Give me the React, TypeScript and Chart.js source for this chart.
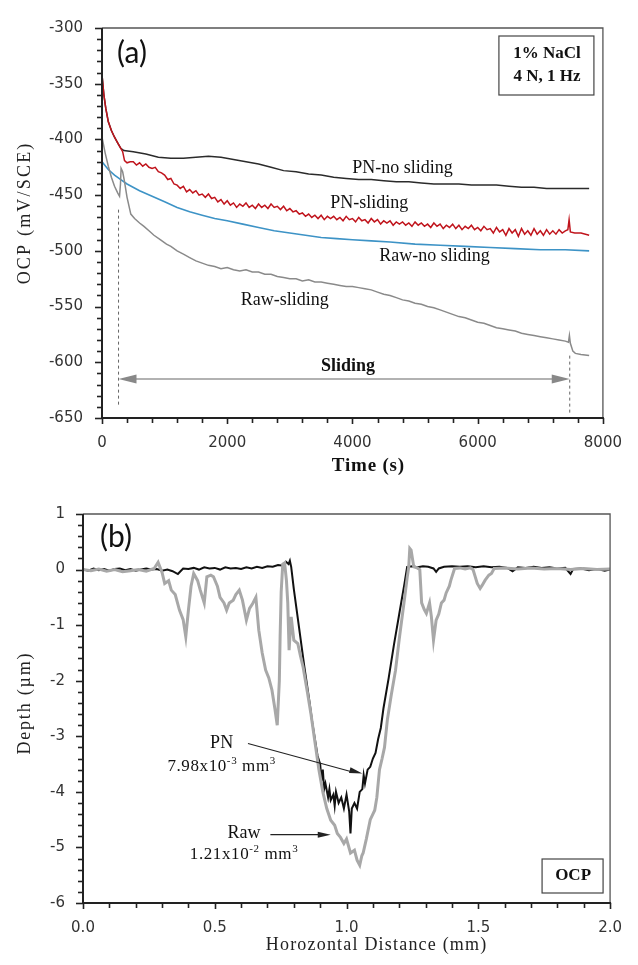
import React, { useEffect, useRef } from "react";
import { Chart, registerables } from "chart.js";

Chart.register(...registerables);

// ---------------- Panel (a): OCP vs time ----------------
const PN_NOSLIDE_T = [0, 30, 60, 100, 150, 200, 250, 300, 350, 500, 700, 900, 1100, 1300, 1500, 1700, 1900, 2100, 2300, 2500, 2700, 2900, 3100, 3300, 3500, 3700, 3900, 4100, 4300, 4500, 4700, 4900, 5100, 5300, 5500, 5700, 5900, 6100, 6300, 6500, 6700, 6900, 7100, 7300, 7500, 7780];
const PN_NOSLIDE_V = [-342, -360, -372, -384, -392, -398, -403, -408, -410, -411, -413, -416, -417, -417, -416, -415, -416, -418, -420, -422, -425, -428, -429, -431, -432, -434, -435, -436, -436, -437, -438, -438, -439, -440, -440, -440, -441, -441, -441, -442, -443, -443, -444, -444, -444, -444];

const PN_SLIDE_T = [0, 30, 60, 100, 150, 200, 250, 300, 330, 360, 400, 450,
  500, 550, 600, 650, 700, 750, 800, 850, 900, 950,
  1000, 1050, 1100, 1150, 1200, 1250, 1300, 1350, 1400, 1450,
  1500, 1550, 1600, 1650, 1700, 1750, 1800, 1850, 1900, 1950,
  2000, 2050, 2100, 2150, 2200, 2250, 2300, 2350, 2400, 2450,
  2500, 2550, 2600, 2650, 2700, 2750, 2800, 2850, 2900, 2950,
  3000, 3050, 3100, 3150, 3200, 3250, 3300, 3350, 3400, 3450,
  3500, 3550, 3600, 3650, 3700, 3750, 3800, 3850, 3900, 3950,
  4000, 4050, 4100, 4150, 4200, 4250, 4300, 4350, 4400, 4450,
  4500, 4550, 4600, 4650, 4700, 4750, 4800, 4850, 4900, 4950,
  5000, 5050, 5100, 5150, 5200, 5250, 5300, 5350, 5400, 5450,
  5500, 5550, 5600, 5650, 5700, 5750, 5800, 5850, 5900, 5950,
  6000, 6050, 6100, 6150, 6200, 6250, 6300, 6350, 6400, 6450,
  6500, 6550, 6600, 6650, 6700, 6750, 6800, 6850, 6900, 6950,
  7000, 7050, 7100, 7150, 7200, 7250, 7300, 7350, 7400,
  7440, 7460, 7480, 7550, 7650, 7780];
const PN_SLIDE_V = [-342, -360, -372, -384, -392, -398, -403, -408, -411, -419, -421, -420,
  -420, -423, -421, -424, -422, -425, -426, -425, -429, -430,
  -432, -436, -435, -440, -441, -444, -442, -447, -445, -448,
  -446, -450, -449, -452, -449, -453, -452, -456, -454, -458,
  -455, -459, -457, -461, -458, -460, -457, -461, -459, -462,
  -458, -461, -459, -462, -458, -461, -460, -463, -460, -464,
  -462, -465, -464, -467, -466, -469, -467, -470, -468, -471,
  -468, -472, -469, -471, -469, -472, -470, -473, -469, -472,
  -471, -474, -470, -473, -472, -475, -471, -474, -472, -476,
  -473, -475, -473, -477, -474, -476, -474, -477, -475, -478,
  -474, -477, -475, -478, -476, -479, -475, -478, -476, -480,
  -477, -479, -476, -480, -477, -481, -478, -480, -477, -481,
  -479, -482, -478, -481, -480, -484, -479, -483, -481, -486,
  -480, -484, -481, -487, -480, -485, -482, -486, -480, -485,
  -482, -486, -481, -485, -482, -485, -481, -484, -482,
  -481, -472, -483, -484, -484, -486];

const RAW_NOSLIDE_T = [0, 100, 200, 300, 400, 600, 800, 1000, 1200, 1400, 1600, 1800, 2000, 2250, 2500, 2750, 3000, 3250, 3500, 3750, 4000, 4300, 4600, 5000, 5400, 5800, 6200, 6600, 7000, 7400, 7780];
const RAW_NOSLIDE_V = [-420, -427, -432, -436, -440, -446, -451, -456, -461, -465, -468, -471, -473, -476, -479, -482, -484, -486, -488, -489, -490, -491, -492, -494, -495, -496, -497, -498, -499, -499, -500];

const RAW_SLIDE_T = [0, 50, 100, 150, 200, 250, 280, 295, 305, 330,
  357, 400, 460, 520, 600, 670, 750, 830, 930, 1030,
  1100, 1200, 1300, 1400, 1500, 1600, 1700, 1800, 1900, 2000,
  2100, 2200, 2300, 2400, 2500, 2600, 2700, 2800, 2900, 3000,
  3100, 3200, 3300, 3400, 3500, 3600, 3700, 3800, 3900, 4000,
  4100, 4200, 4300, 4400, 4500, 4600, 4700, 4800, 4900, 5000,
  5100, 5200, 5300, 5400, 5500, 5600, 5700, 5800, 5900, 6000,
  6100, 6200, 6300, 6400, 6500, 6600, 6700, 6800, 6900, 7000,
  7100, 7200, 7300, 7400, 7450, 7465, 7480, 7520, 7560, 7650, 7780];
const RAW_SLIDE_V = [-398, -412, -424, -434, -442, -448, -451, -440, -426, -429,
  -437, -452, -467, -471, -475, -478, -482, -486, -490, -494,
  -496, -500, -503, -506, -509, -511, -513, -514, -516, -515,
  -517, -518, -517, -519, -519, -521, -521, -523, -524, -525,
  -525, -527, -526, -528, -528, -529, -530, -531, -532, -532,
  -533, -534, -535, -537, -539, -540, -542, -544, -545, -547,
  -548, -550, -551, -553, -555, -557, -559, -560, -562, -564,
  -565, -567, -569, -570, -571, -572, -574, -575, -576, -577,
  -578, -579, -580, -581, -582, -576, -583, -590, -592, -593, -594];

// sliding start / end markers (time, OCP)
const SLIDE_START_T = [264, 264];
const SLIDE_START_V = [-463, -640];
const SLIDE_END_T = [7470, 7470];
const SLIDE_END_V = [-594, -647];
const SLIDE_ARROW_V = -615;

// axis ticks (a)
const A_X_MIN = 0, A_X_MAX = 8000, A_X_STEP = 2000, A_X_MINOR = 400;
const A_Y_MIN = -650, A_Y_MAX = -300, A_Y_STEP = 50, A_Y_MINOR = 10;

// ---------------- Panel (b): depth profile ----------------
const PN_X = [0.00, 0.02, 0.04, 0.06, 0.08, 0.10, 0.12, 0.14, 0.16, 0.18, 0.20, 0.22, 0.24, 0.26, 0.28, 0.30, 0.32, 0.34, 0.36, 0.37, 0.38, 0.40, 0.42, 0.44, 0.46, 0.48, 0.50, 0.52, 0.54, 0.56, 0.58, 0.60, 0.62, 0.64, 0.66, 0.68, 0.70, 0.72, 0.74, 0.76, 0.77, 0.78, 0.785, 0.79,
  0.80, 0.82, 0.84, 0.86, 0.87, 0.88, 0.89, 0.90, 0.905, 0.91, 0.915, 0.92, 0.93, 0.935, 0.94, 0.95, 0.955, 0.96, 0.97, 0.98, 0.99, 1.00, 1.01, 1.015, 1.02, 1.03, 1.04, 1.05, 1.06, 1.065, 1.07, 1.08, 1.09, 1.10, 1.11, 1.12, 1.13, 1.14, 1.16, 1.18, 1.20, 1.22,
  1.23, 1.25, 1.27, 1.29, 1.31, 1.33, 1.34, 1.35, 1.37, 1.40, 1.43, 1.46, 1.49, 1.52, 1.55, 1.58, 1.61, 1.63, 1.65, 1.68, 1.71, 1.74, 1.77, 1.80, 1.83, 1.85, 1.86, 1.89, 1.92, 1.95, 1.98, 2.00];
const PN_D = [0.00, -0.02, 0.02, -0.01, 0.01, -0.02, 0.01, 0.02, -0.01, 0.01, -0.02, 0.00, 0.02, 0.00, 0.01, -0.02, 0.00, -0.03, -0.08, -0.03, 0.02, 0.01, 0.03, 0.00, 0.04, 0.02, 0.03, 0.00, 0.04, 0.02, 0.03, 0.01, 0.04, 0.02, 0.05, 0.03, 0.06, 0.05, 0.08, 0.07, 0.14, 0.10, 0.16, 0.05,
  -0.35, -1.05, -1.75, -2.40, -2.75, -3.05, -3.35, -3.50, -3.80, -3.60, -3.95, -3.85, -4.10, -3.95, -4.15, -4.05, -4.25, -4.00, -4.20, -4.10, -4.30, -4.05, -4.35, -4.75, -4.30, -4.20, -4.30, -4.00, -3.95, -3.70, -3.85, -3.60, -3.55, -3.40, -3.30, -3.05, -2.85, -2.50, -1.95, -1.35, -0.80, -0.25,
  0.05, 0.06, 0.04, 0.06, 0.05, 0.02, -0.04, 0.02, 0.05, 0.06, 0.05, 0.06, 0.04, 0.06, 0.04, 0.05, 0.03, -0.03, 0.04, 0.03, 0.05, 0.03, 0.04, 0.02, 0.03, -0.08, 0.01, 0.02, -0.01, 0.01, -0.02, 0.00];

const RAW_X = [0.00, 0.03, 0.06, 0.09, 0.12, 0.15, 0.18, 0.21, 0.24, 0.27, 0.285, 0.30, 0.31, 0.325, 0.335, 0.35, 0.366, 0.38, 0.39, 0.40, 0.41, 0.42, 0.435, 0.445, 0.46, 0.47, 0.485, 0.495, 0.51, 0.52, 0.535, 0.545, 0.555, 0.57, 0.58, 0.593, 0.605, 0.62, 0.632, 0.644, 0.656, 0.667, 0.68, 0.693, 0.705, 0.717, 0.728, 0.737, 0.745, 0.748, 0.752, 0.758, 0.765, 0.772, 0.777, 0.782, 0.79,
  0.80, 0.815, 0.825, 0.835, 0.852, 0.865, 0.88, 0.895, 0.91, 0.925, 0.94, 0.955, 0.965, 0.977, 0.99, 1.00, 1.015, 1.03, 1.04, 1.05, 1.058, 1.063, 1.075, 1.09, 1.10, 1.107, 1.115, 1.125, 1.135, 1.144, 1.155, 1.17, 1.186, 1.20, 1.218, 1.23,
  1.236, 1.24, 1.245, 1.255, 1.268, 1.278, 1.285, 1.295, 1.303, 1.315, 1.322, 1.33, 1.34, 1.35, 1.36, 1.37, 1.378, 1.39, 1.396, 1.41, 1.43, 1.45, 1.47, 1.48, 1.496, 1.507, 1.515, 1.526, 1.54, 1.55, 1.56, 1.60, 1.65, 1.70, 1.75, 1.80, 1.85, 1.90, 1.95, 2.00];
const RAW_D = [0.00, -0.02, 0.01, -0.03, 0.00, -0.04, -0.02, 0.00, -0.03, 0.02, 0.13, -0.05, -0.25, -0.20, -0.37, -0.45, -0.73, -0.90, -1.21, -0.73, -0.30, -0.07, -0.20, -0.37, -0.60, -0.13, -0.10, -0.13, -0.30, -0.50, -0.60, -0.73, -0.60, -0.55, -0.45, -0.37, -0.55, -0.91, -0.70, -0.61, -0.50, -1.09, -1.50, -1.81, -1.95, -2.17, -2.50, -2.80, -2.00, -1.20, -0.40, 0.10, 0.12, -0.20, -0.60, -1.45, -0.85,
  -1.27, -1.33, -1.55, -1.75, -2.22, -2.60, -3.10, -3.60, -4.00, -4.30, -4.51, -4.60, -4.75, -4.82, -4.93, -4.85, -5.10, -5.05, -5.23, -5.32, -5.15, -5.10, -4.85, -4.50, -4.40, -4.33, -4.10, -3.60, -3.40, -3.20, -2.70, -2.25, -1.81, -1.25, -0.60, -0.15,
  0.05, 0.38, 0.35, 0.05, 0.03, 0.00, -0.60, -0.72, -0.79, -0.60, -0.85, -1.27, -0.91, -0.80, -0.60, -0.55, -0.42, -0.30, -0.19, 0.02, 0.03, 0.01, 0.03, 0.00, -0.25, -0.34, -0.28, -0.19, -0.10, -0.07, 0.02, 0.03, 0.01, 0.03, 0.01, 0.02, 0.00, 0.02, 0.00, 0.01];

// axis ticks (b)
const B_X_MIN = 0, B_X_MAX = 2, B_X_STEP = 0.5, B_X_MINOR = 0.1;
const B_Y_MIN = -6, B_Y_MAX = 1, B_Y_STEP = 1, B_Y_MINOR = 0.2;

// ---------------- helpers ----------------
const SERIF = '"Liberation Serif", "Times New Roman", serif';
const SANS = '"DejaVu Sans", Verdana, sans-serif';
const LABEL_FONT = 'Lato, "Open Sans", sans-serif';

const pairs = (xs: number[], ys: number[]) => xs.map((x, i) => ({ x, y: ys[i] }));

function drawText(ctx: any, s: string, x: number, y: number, font: string, color: string, spacing = 0, rot = 0, align = "center") {
  ctx.save();
  ctx.font = font;
  ctx.fillStyle = color;
  ctx.textAlign = align;
  ctx.textBaseline = "middle";
  try { ctx.letterSpacing = spacing + "px"; } catch (e) {}
  ctx.translate(x, y);
  if (rot) ctx.rotate(rot);
  ctx.fillText(s, spacing / 2, 0);
  ctx.restore();
}

function richText(ctx: any, segs: [string, boolean][], cx: number, cy: number, size: number, color: string) {
  ctx.save();
  ctx.fillStyle = color;
  ctx.textBaseline = "alphabetic";
  ctx.textAlign = "left";
  try { ctx.letterSpacing = "0.6px"; } catch (e) {}
  const sup = Math.round(size * 0.65);
  let w = 0;
  for (const [t, s] of segs) {
    ctx.font = `${s ? sup : size}px ${SERIF}`;
    w += ctx.measureText(t).width;
  }
  let x = cx - w / 2;
  const base = cy + size * 0.33;
  for (const [t, s] of segs) {
    ctx.font = `${s ? sup : size}px ${SERIF}`;
    ctx.fillText(t, x, s ? base - size * 0.4 : base);
    x += ctx.measureText(t).width;
  }
  ctx.restore();
}

function arrowHead(ctx: any, x1: number, y1: number, x2: number, y2: number, len: number, half: number, color: string) {
  const ang = Math.atan2(y2 - y1, x2 - x1);
  ctx.save();
  ctx.fillStyle = color;
  ctx.beginPath();
  ctx.moveTo(x2, y2);
  ctx.lineTo(x2 - len * Math.cos(ang) + half * Math.sin(ang), y2 - len * Math.sin(ang) - half * Math.cos(ang));
  ctx.lineTo(x2 - len * Math.cos(ang) - half * Math.sin(ang), y2 - len * Math.sin(ang) + half * Math.cos(ang));
  ctx.closePath();
  ctx.fill();
  ctx.restore();
}

function drawFrame(chart: any, xMajor: number, xMinor: number, yMajor: number, yMinor: number) {
  const { ctx, chartArea: a, scales } = chart;
  const xs = scales.x, ys = scales.y;
  ctx.save();
  ctx.strokeStyle = "#555";
  ctx.lineWidth = 1.3;
  ctx.beginPath();
  ctx.moveTo(a.left, a.top);
  ctx.lineTo(a.right, a.top);
  ctx.lineTo(a.right, a.bottom);
  ctx.stroke();
  ctx.strokeStyle = "#222";
  ctx.lineWidth = 2;
  ctx.beginPath();
  ctx.moveTo(a.left, a.top);
  ctx.lineTo(a.left, a.bottom);
  ctx.lineTo(a.right + 1, a.bottom);
  ctx.stroke();
  ctx.lineWidth = 1.6;
  const nx = Math.round((xs.max - xs.min) / xMinor);
  for (let i = 0; i <= nx; i++) {
    const v = xs.min + i * xMinor;
    const r = v / xMajor;
    const major = Math.abs(r - Math.round(r)) < 1e-6;
    const px = Math.round(xs.getPixelForValue(v)) + 0.5;
    ctx.beginPath();
    ctx.moveTo(px, a.bottom);
    ctx.lineTo(px, a.bottom + (major ? 6 : 5));
    ctx.stroke();
  }
  const ny = Math.round((ys.max - ys.min) / yMinor);
  for (let i = 0; i <= ny; i++) {
    const v = ys.min + i * yMinor;
    const r = v / yMajor;
    const major = Math.abs(r - Math.round(r)) < 1e-6;
    const py = Math.round(ys.getPixelForValue(v)) + 0.5;
    ctx.beginPath();
    ctx.moveTo(a.left, py);
    ctx.lineTo(a.left - (major ? 7 : 5), py);
    ctx.stroke();
  }
  ctx.restore();
}

const lineDs = (label: string, data: any[], color: string, width: number, extra: any = {}) => ({
  label,
  data,
  showLine: true,
  borderColor: color,
  backgroundColor: color,
  borderWidth: width,
  pointRadius: 0,
  pointHoverRadius: 0,
  fill: false,
  tension: 0,
  ...extra,
});

const plotA = {
  id: "plotA",
  afterDatasetsDraw(chart: any) {
    const { ctx, chartArea: a, scales } = chart;
    const x = scales.x, y = scales.y;
    // sliding arrow
    const xs = x.getPixelForValue(SLIDE_START_T[0]);
    const xe = x.getPixelForValue(SLIDE_END_T[0]);
    const ya = y.getPixelForValue(SLIDE_ARROW_V);
    ctx.save();
    ctx.strokeStyle = "#999";
    ctx.lineWidth = 1.5;
    ctx.beginPath();
    ctx.moveTo(xs + 10, ya);
    ctx.lineTo(xe - 10, ya);
    ctx.stroke();
    ctx.restore();
    arrowHead(ctx, xe, ya, xs, ya, 18, 4.5, "#888");
    arrowHead(ctx, xs, ya, xe, ya, 18, 4.5, "#888");
    const serif18 = `18px ${SERIF}`;
    drawText(ctx, "Sliding", x.getPixelForValue(3930), y.getPixelForValue(-604), `bold 18px ${SERIF}`, "#111");
    drawText(ctx, "PN-no sliding", x.getPixelForValue(4800), y.getPixelForValue(-426), serif18, "#111");
    drawText(ctx, "PN-sliding", x.getPixelForValue(4270), y.getPixelForValue(-457), serif18, "#111");
    drawText(ctx, "Raw-no sliding", x.getPixelForValue(5310), y.getPixelForValue(-505), serif18, "#111");
    drawText(ctx, "Raw-sliding", x.getPixelForValue(2920), y.getPixelForValue(-544), serif18, "#111");
    // condition box
    ctx.save();
    ctx.strokeStyle = "#444";
    ctx.lineWidth = 1.2;
    ctx.strokeRect(a.right - 104, a.top + 8, 95, 59);
    ctx.restore();
    drawText(ctx, "1% NaCl", a.right - 56, a.top + 26, `bold 17px ${SERIF}`, "#111");
    drawText(ctx, "4 N, 1 Hz", a.right - 56, a.top + 49, `bold 17px ${SERIF}`, "#111");
    drawText(ctx, "(a)", a.left + 30, a.top + 25, `30px ${LABEL_FONT}`, "#111");
    drawFrame(chart, A_X_STEP, A_X_MINOR, A_Y_STEP, A_Y_MINOR);
    // axis titles
    drawText(ctx, "OCP (mV/SCE)", 25, 214, `18px ${SERIF}`, "#222", 2.2, -Math.PI / 2);
    drawText(ctx, "Time (s)", 368, 466, `bold 19px ${SERIF}`, "#111", 0.8);
  },
};

const plotB = {
  id: "plotB",
  afterDatasetsDraw(chart: any) {
    const { ctx, chartArea: a, scales } = chart;
    const x = scales.x, y = scales.y;
    // PN arrow
    const p1x = x.getPixelForValue(0.626), p1y = y.getPixelForValue(-3.13);
    const p2x = x.getPixelForValue(1.06), p2y = y.getPixelForValue(-3.67);
    ctx.save();
    ctx.strokeStyle = "#222";
    ctx.lineWidth = 1.1;
    ctx.beginPath();
    ctx.moveTo(p1x, p1y);
    ctx.lineTo(p2x - 8, p2y - 1.1);
    ctx.stroke();
    const r1x = x.getPixelForValue(0.711), r1y = y.getPixelForValue(-4.77);
    const r2x = x.getPixelForValue(0.94), r2y = y.getPixelForValue(-4.77);
    ctx.beginPath();
    ctx.moveTo(r1x, r1y);
    ctx.lineTo(r2x - 8, r2y);
    ctx.stroke();
    ctx.restore();
    arrowHead(ctx, p1x, p1y, p2x, p2y, 13, 3, "#222");
    arrowHead(ctx, r1x, r1y, r2x, r2y, 13, 3, "#222");
    drawText(ctx, "PN", x.getPixelForValue(0.526), y.getPixelForValue(-3.12), `18px ${SERIF}`, "#111");
    richText(ctx, [["7.98x10", false], ["-3", true], [" mm", false], ["3", true]], x.getPixelForValue(0.526), y.getPixelForValue(-3.52), 17, "#111");
    drawText(ctx, "Raw", x.getPixelForValue(0.611), y.getPixelForValue(-4.75), `18px ${SERIF}`, "#111");
    richText(ctx, [["1.21x10", false], ["-2", true], [" mm", false], ["3", true]], x.getPixelForValue(0.611), y.getPixelForValue(-5.11), 17, "#111");
    // OCP box
    ctx.save();
    ctx.strokeStyle = "#444";
    ctx.lineWidth = 1.2;
    ctx.strokeRect(a.right - 68, a.bottom - 44, 61, 34);
    ctx.restore();
    drawText(ctx, "OCP", a.right - 37, a.bottom - 27, `bold 17px ${SERIF}`, "#111");
    drawText(ctx, "(b)", a.left + 33, a.top + 23, `30px ${LABEL_FONT}`, "#111");
    drawFrame(chart, B_X_STEP, B_X_MINOR, B_Y_STEP, B_Y_MINOR);
    drawText(ctx, "Depth (\u00b5m)", 25, 222, `18px ${SERIF}`, "#222", 1.8, -Math.PI / 2);
    drawText(ctx, "Horozontal Distance (mm)", 376, 463, `18px ${SERIF}`, "#222", 1.2);
  },
};

const tickFont = { family: SANS, size: 15 };

export default function App() {
  const refA = useRef<HTMLCanvasElement>(null);
  const refB = useRef<HTMLCanvasElement>(null);

  useEffect(() => {
    const chartA = new Chart(refA.current as HTMLCanvasElement, {
      type: "scatter",
      data: {
        datasets: [
          lineDs("Raw-sliding", pairs(RAW_SLIDE_T, RAW_SLIDE_V), "#8a8a8a", 1.5),
          lineDs("Raw-no sliding", pairs(RAW_NOSLIDE_T, RAW_NOSLIDE_V), "#3d93c6", 1.6),
          lineDs("PN-sliding", pairs(PN_SLIDE_T, PN_SLIDE_V), "#c0141c", 1.5),
          lineDs("PN-no sliding", pairs(PN_NOSLIDE_T, PN_NOSLIDE_V), "#2b2b2b", 1.5),
          lineDs("start", pairs(SLIDE_START_T, SLIDE_START_V), "#666", 1, { borderDash: [3, 3] }),
          lineDs("end", pairs(SLIDE_END_T, SLIDE_END_V), "#666", 1, { borderDash: [3, 3] }),
        ],
      },
      options: {
        responsive: false,
        animation: false,
        devicePixelRatio: 1,
        events: [],
        layout: { padding: { top: 22, right: 21, left: 0, bottom: 0 }, autoPadding: false },
        plugins: { legend: { display: false }, tooltip: { enabled: false }, title: { display: false } },
        scales: {
          x: {
            type: "linear",
            min: A_X_MIN,
            max: A_X_MAX,
            afterFit: (s: any) => { s.height = 64; },
            grid: { display: false, drawTicks: false },
            border: { display: false },
            ticks: { stepSize: A_X_STEP, font: tickFont, color: "#333", padding: 16, maxRotation: 0, autoSkip: false, callback: (v: any) => String(v) },
          },
          y: {
            type: "linear",
            min: A_Y_MIN,
            max: A_Y_MAX,
            afterFit: (s: any) => { s.width = 102; },
            grid: { display: false, drawTicks: false },
            border: { display: false },
            ticks: { stepSize: A_Y_STEP, font: tickFont, color: "#333", padding: 19, autoSkip: false, callback: (v: any) => String(v) },
          },
        },
      } as any,
      plugins: [plotA],
    });

    const chartB = new Chart(refB.current as HTMLCanvasElement, {
      type: "scatter",
      data: {
        datasets: [
          lineDs("Raw", pairs(RAW_X, RAW_D), "#a8a8a8", 3),
          lineDs("PN", pairs(PN_X, PN_D), "#111", 2),
        ],
      },
      options: {
        responsive: false,
        animation: false,
        devicePixelRatio: 1,
        events: [],
        layout: { padding: { top: 32, right: 15, left: 0, bottom: 0 }, autoPadding: false },
        plugins: { legend: { display: false }, tooltip: { enabled: false }, title: { display: false } },
        scales: {
          x: {
            type: "linear",
            min: B_X_MIN,
            max: B_X_MAX,
            afterFit: (s: any) => { s.height = 62; },
            grid: { display: false, drawTicks: false },
            border: { display: false },
            ticks: { stepSize: B_X_STEP, font: tickFont, color: "#333", padding: 16, maxRotation: 0, autoSkip: false, callback: (v: any) => Number(v).toFixed(1) },
          },
          y: {
            type: "linear",
            min: B_Y_MIN,
            max: B_Y_MAX,
            afterFit: (s: any) => { s.width = 83; },
            grid: { display: false, drawTicks: false },
            border: { display: false },
            ticks: { stepSize: B_Y_STEP, font: tickFont, color: "#333", padding: 18, autoSkip: false, callback: (v: any) => String(Math.round(Number(v))) },
          },
        },
      } as any,
      plugins: [plotB],
    });

    return () => {
      chartA.destroy();
      chartB.destroy();
    };
  }, []);

  return (
    <div style={{ position: "absolute", left: 0, top: 0, width: 638, height: 965, background: "#fff" }}>
      <canvas ref={refA} width={638} height={482} style={{ position: "absolute", left: 0, top: 0, width: 638, height: 482 }} />
      <canvas ref={refB} width={638} height={483} style={{ position: "absolute", left: 0, top: 482, width: 638, height: 483 }} />
    </div>
  );
}
